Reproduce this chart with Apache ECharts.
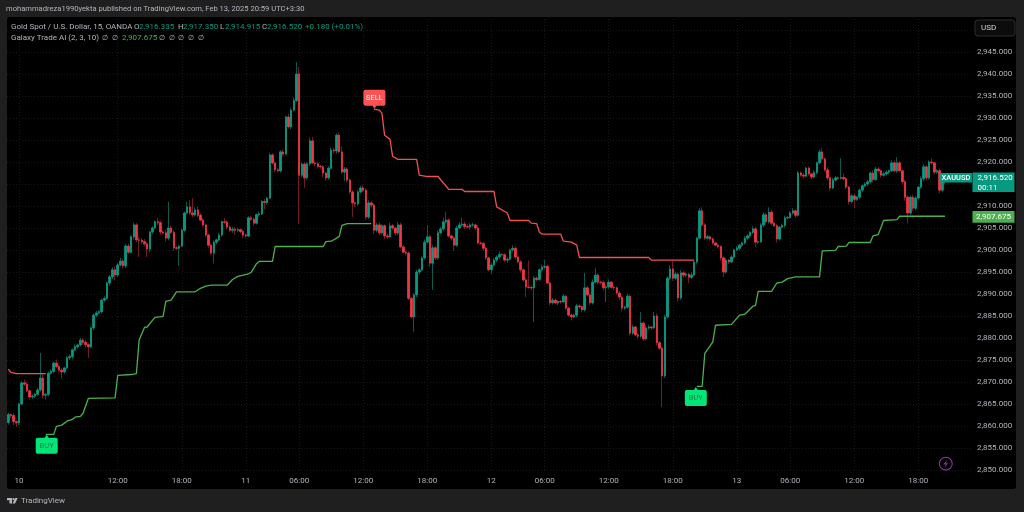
<!DOCTYPE html>
<html><head><meta charset="utf-8">
<style>html,body{margin:0;padding:0;background:#1f1f1f}#c{width:1024px;height:512px}</style>
<script src="https://cdn.jsdelivr.net/npm/echarts@6/dist/echarts.min.js"></script>
</head><body><div id="c"></div>
<script>
const firstOpen = 2860.8;
const closes = [
2862.6,2862.4,2861.0,2860.7,2865.0,2869.8,2869.5,2868.0,2866.6,2866.8,
2867.2,2868.2,2870.9,2867.0,2867.2,2872.0,2872.4,2874.3,2873.5,2872.7,
2872.3,2873.2,2875.5,2875.8,2877.3,2878.0,2878.4,2879.5,2879.0,2878.5,
2878.0,2882.3,2885.2,2885.7,2886.0,2888.6,2889.0,2892.5,2893.9,2895.5,
2894.3,2896.6,2897.5,2896.4,2900.9,2899.5,2903.0,2905.7,2902.3,2902.2,
2901.9,2901.4,2900.2,2904.1,2905.0,2906.4,2906.2,2904.1,2903.9,2902.7,
2905.0,2904.0,2900.5,2900.4,2900.9,2904.5,2908.4,2909.8,2908.4,2908.0,
2909.1,2907.9,2906.8,2905.7,2903.4,2901.1,2899.3,2901.8,2902.3,2903.4,
2906.4,2906.3,2905.2,2904.5,2904.7,2904.5,2904.6,2904.2,2903.4,2903.2,
2907.3,2907.0,2906.1,2908.0,2908.2,2911.0,2910.8,2911.8,2921.6,2919.8,
2918.2,2918.0,2922.3,2921.8,2930.2,2928.0,2931.8,2934.0,2940.0,2917.0,
2919.5,2916.4,2919.6,2924.8,2919.8,2919.6,2919.0,2918.9,2917.5,2916.4,
2918.6,2922.7,2922.5,2926.1,2922.3,2917.7,2918.4,2915.9,2913.2,2910.7,
2910.5,2913.2,2914.1,2913.6,2907.5,2910.7,2910.2,2904.5,2905.7,2903.9,
2905.5,2903.2,2903.0,2905.5,2905.0,2903.9,2905.7,2900.7,2899.5,2899.3,
2889.0,2884.8,2889.8,2895.0,2895.5,2898.2,2901.8,2903.0,2897.0,2900.5,
2898.2,2903.9,2904.8,2906.4,2906.8,2903.2,2902.7,2901.1,2905.0,2905.7,
2905.9,2905.3,2905.2,2905.7,2905.7,2905.0,2901.6,2901.5,2900.4,2898.2,
2895.5,2896.6,2897.7,2898.4,2899.0,2898.9,2897.7,2897.9,2900.0,2900.4,
2898.4,2897.3,2895.5,2893.2,2891.6,2891.5,2891.4,2893.6,2893.3,2895.5,
2896.1,2896.3,2892.5,2888.0,2888.6,2888.0,2888.3,2888.2,2889.5,2886.8,
2885.2,2884.8,2885.2,2887.3,2887.1,2886.4,2891.4,2889.8,2888.0,2892.7,
2894.3,2892.7,2892.6,2891.4,2891.6,2892.7,2891.5,2891.4,2890.2,2889.3,
2886.8,2887.0,2889.5,2881.1,2882.5,2880.7,2880.4,2883.4,2879.8,2882.3,
2882.5,2882.3,2885.0,2878.9,2877.7,2871.4,2884.8,2893.6,2895.7,2893.6,
2894.5,2889.1,2894.8,2894.3,2894.5,2893.8,2894.3,2897.3,2902.7,2908.9,
2905.7,2902.7,2903.0,2902.5,2901.6,2901.1,2900.8,2898.2,2895.0,2897.7,
2897.3,2898.4,2900.0,2900.4,2901.1,2901.6,2902.7,2903.2,2904.0,2904.8,
2901.8,2901.9,2905.7,2908.0,2906.4,2908.6,2906.1,2905.5,2902.5,2905.2,
2905.6,2907.3,2907.4,2908.4,2908.9,2907.9,2917.5,2917.0,2916.8,2918.6,
2917.3,2916.6,2917.6,2919.8,2922.3,2920.7,2918.2,2916.4,2914.1,2915.9,
2916.4,2916.3,2916.5,2916.2,2914.3,2911.0,2912.3,2911.5,2912.0,2913.6,
2914.6,2915.0,2915.5,2917.5,2916.0,2918.4,2918.0,2917.0,2917.3,2917.7,
2918.0,2919.8,2918.0,2919.8,2918.0,2915.5,2912.0,2908.4,2912.0,2909.5,
2911.8,2914.3,2916.2,2918.9,2916.4,2920.0,2919.8,2917.7,2918.0,2913.6,
2916.335,2916.52];
const upperWicks = [
.4,.3,.5,.3,.3,.4,.8,.5,.3,.4,
.3,.5,5.7,.9,.3,.4,.5,.3,.8,.4,
.5,.3,.4,.5,.3,.6,.3,.5,.4,.6,
.4,.3,.3,.5,.3,.4,.5,.3,.5,.6,
.8,.4,.7,.5,.4,.6,.3,.5,.4,.6,
.5,.6,.4,.3,.4,.3,.9,.5,.4,.7,
6.0,.5,.6,.4,.3,.4,.3,1.2,1.5,3.4,
.6,.8,.5,.4,.3,.4,.3,.4,.3,.5,
.3,.9,.5,.4,.6,.5,.4,.3,.4,.3,
.4,.5,.4,.3,.5,.4,.6,.3,.5,.4,
.3,.5,.4,.6,.3,.8,.4,.7,2.7,1.6,
.4,.5,.3,.8,.9,.5,.4,.3,.4,.3,
.4,.6,.5,.4,.6,1.2,.5,.4,.3,.4,
.3,.6,.5,.7,.4,.6,.5,.4,.5,.6,
.4,.3,.5,.7,.4,.3,.6,.5,.4,.3,
.4,.3,.4,.5,.3,.4,.6,2.7,.5,.6,
.4,.6,.5,.8,1.8,.4,.3,.4,.5,.6,
1.4,.5,.6,.4,.5,.3,.6,.4,.3,.4,
.3,.4,.5,.4,.6,.3,.4,.5,.3,.7,
.4,.3,.4,.3,.5,6.0,.4,.5,.4,.3,
.6,1.4,.4,.3,.5,.4,.3,.4,.5,.3,
.3,.4,.3,.5,.4,.3,3.4,.5,.4,.6,
1.6,.4,.3,.5,.4,.6,.3,.4,.3,.5,
.3,.4,.6,.4,.5,.3,.4,2.5,.4,.6,
.5,.3,.9,.6,.4,.3,.5,.4,.8,2.0,
.6,.4,.7,.5,.4,.3,.6,.4,.3,.6,
.8,.4,.5,.3,.4,.3,.4,.3,.4,.5,
.3,.4,.3,.5,.4,.3,.5,.4,.3,.6,
.5,.3,.4,.6,.4,1.1,.5,.3,.4,.3,
.4,.5,.3,.4,.6,.3,.5,.4,.5,.3,
.4,.3,.5,.3,.5,.9,.4,.6,.3,.5,
.4,.3,4.4,.9,.4,.3,.5,.4,.3,.4,
.3,.4,.5,.3,.6,.5,.4,.3,.5,.4,
.3,.6,.5,1.3,.4,.3,.5,.4,.3,.6,
.4,.3,.5,.6,.4,.4,.8,.3,.4,.5,
.6,.83];
const lowerWicks = [
.5,.6,.8,.9,.5,.3,.4,.3,.6,.4,
.5,.3,.4,.7,1.0,.4,.3,.5,.3,.6,
1.5,.4,.3,.5,.6,.3,.4,.3,.5,.7,
2.5,.3,.5,.4,.3,.5,.4,.3,.6,.5,
1.2,.4,.3,.6,.5,.4,.3,.6,.5,3.8,
.6,.5,1.8,.7,.4,.3,.5,.6,.4,.8,
.5,.4,.7,.5,4.0,.3,.4,.3,.5,.6,
.4,.5,.3,.4,.5,.6,.4,2.3,.5,.3,
.4,.3,.5,.4,.6,1.1,.5,.4,.7,.5,
.3,.4,.6,.3,.4,.3,1.6,.5,.3,.4,
.5,.3,.4,.6,.3,.4,.5,.3,.4,11.0,
.5,2.3,.4,.5,.3,.6,.5,.4,1.0,.6,
.4,.3,.5,.6,.3,.4,2.0,.5,.4,3.2,
.7,.4,.3,.5,.6,.4,.8,.9,.5,.6,
.4,.7,.5,.3,.4,.6,.5,.4,.3,.5,
.4,.3,3.4,.5,.6,.3,.4,.3,.9,6.1,
.5,.4,.3,.5,.4,.4,.6,1.3,.4,.3,
.4,.5,.3,.6,.4,.5,.3,.4,.6,.5,
.4,.9,.3,.4,.5,.3,.4,.6,.3,.4,
.5,.3,.6,.4,2.3,.3,.5,7.8,.4,.3,
.4,.5,.3,.6,.4,.3,.5,.4,.3,.5,
.4,.8,.3,.4,.5,.6,.4,.3,.5,.4,
.3,.5,.4,.6,3.2,.4,.3,.5,.4,.6,
.7,.4,.3,.5,.4,.3,.5,.4,.5,.3,
.4,.5,.3,.6,.4,7.1,.5,.3,.4,.6,
.5,.8,.4,.6,.5,1.3,.4,.3,.4,.3,
.5,.4,.3,.5,.4,.3,.5,.6,1.1,.4,
.5,.3,.4,.3,.5,.4,.3,.4,.5,.3,
1.1,.4,.3,.5,.6,.4,.5,.3,.8,.4,
.3,.5,.4,.3,.4,.6,.3,.4,.5,.3,
.4,.5,.3,.4,.3,.5,.4,.6,.7,.3,
.4,.5,.3,.4,.5,.7,.4,2.0,.3,.5,
.4,.3,.5,.4,.6,.3,.4,.5,.3,.4,
.5,.3,.4,.5,.3,.6,.8,2.4,.4,.6,
.5,.3,.4,.5,.6,.4,.3,.5,.4,.7,
.5,1.42];
const redTrend1 = [[0,2872.9],[1,2872.2],[3,2871.9],[14,2871.9]];
const greenTrend1 = [[14,2858.1],[17,2858.1],[18,2859.9],[20,2860.2],[22,2861.1],[24,2861.5],[25,2862],[27,2862.2],[28,2862.9],[30,2866.3],[40,2866.4],[41,2871.5],[46,2871.7],[48,2871.9],[49,2879.5],[51,2882.4],[52,2882.5],[54,2884],[55,2884.7],[58,2884.9],[59,2888.3],[61,2888.6],[63,2890.5],[70,2890.5],[72,2891.3],[74,2891.8],[76,2892],[82,2892],[84,2893.3],[86,2894],[90,2894.6],[91,2894.9],[93,2896.9],[94,2897.4],[99,2897.4],[100,2900.8],[118,2900.8],[119,2901.9],[121,2902],[123,2902.7],[124,2903.1],[125,2905.6],[127,2906],[136,2906]];
const redTrend2 = [[137,2932],[139,2931.8],[140,2931.1],[141,2926.1],[143,2925.2],[144,2921.3],[146,2920.6],[153,2920.6],[154,2917],[157,2916.7],[161,2916.7],[165,2913.8],[170,2913.8],[171,2913.3],[182,2913.3],[183,2909.8],[187,2908.4],[188,2906.7],[195,2906.7],[196,2906.1],[198,2906],[199,2904.1],[200,2903.6],[207,2903.6],[208,2902],[211,2901.8],[213,2901.1],[214,2898.3],[240,2898.3],[241,2897.7],[257,2897.7]];
const greenTrend2 = [[258,2869],[260,2869],[261,2876.5],[264,2879.1],[265,2882.9],[271,2883.1],[274,2885.2],[276,2885.4],[279,2887.2],[280,2887.4],[281,2890.6],[286,2890.6],[288,2892.5],[290,2892.7],[292,2893.5],[295,2893.9],[304,2893.9],[305,2899.8],[310,2899.9],[311,2900.8],[314,2900.9],[315,2901.7],[323,2901.7],[324,2903.2],[326,2903.5],[328,2906.7],[333,2906.9],[334,2907.675],[351,2907.675]];
const tickIndices = [4,41,65,89,109,133,157,181,201,225,249,273,293,317,341];
const tickLabels = ['10','12:00','18:00','11','06:00','12:00','18:00','12','06:00','12:00','18:00','13','06:00','12:00','18:00'];
const slotCount = 362;

const UP='#089981', DOWN='#f23645', UPW='#0b5a4f', DOWNW='#6e1d28', GRID='#171717', TXT='#b2b5be';
const FONT='Roboto';
const categories = Array.from({length:slotCount},()=> '');
tickIndices.forEach((ix,k)=>{categories[ix]=tickLabels[k];});
const opens = closes.map((c,i)=> i?closes[i-1]:firstOpen);
const wickData = closes.map((c,i)=>[opens[i],c,Math.min(opens[i],c)-lowerWicks[i],Math.max(opens[i],c)+upperWicks[i]]);
const bodyData = closes.map((c,i)=>[opens[i],c,Math.min(opens[i],c),Math.max(opens[i],c)]);
const fmt = v=>v.toLocaleString('en-US',{minimumFractionDigits:3,maximumFractionDigits:3});

const sellPath='path://M2 0H20A2 2 0 0 1 22 2V14A2 2 0 0 1 20 16H13L11 19L9 16H2A2 2 0 0 1 0 14V2A2 2 0 0 1 2 0Z';
const buyPath='path://M11 0L13 3H20A2 2 0 0 1 22 5V17A2 2 0 0 1 20 19H2A2 2 0 0 1 0 17V5A2 2 0 0 1 2 3H9Z';
const signal=(coord,kind,dx)=>({coord,symbol:kind==='SELL'?sellPath:buyPath,symbolSize:[22,19],
  symbolOffset:kind==='SELL'?[dx,-10]:[dx,10],
  itemStyle:{color:kind==='SELL'?'#ff5252':'#00e676'},
  label:{show:true,formatter:kind,position:'inside',offset:[0,kind==='SELL'?-1.5:1.5],color:kind==='SELL'?'#fff':'#1b7a4c',fontFamily:FONT,fontSize:7.5}});
const trend=(name,data,color,mp)=>({name,type:'line',data,symbol:'none',silent:true,lineStyle:{color,width:1.3},z:4,
  markPoint:mp?{silent:true,animation:false,data:mp}:undefined});
const tx=(x,y,text,fill,size,extra)=>({type:'text',z:60,silent:true,style:Object.assign({x,y,text,fill,font:(size||8)+'px '+FONT,verticalAlign:'middle'},extra||{})});

const option={
 backgroundColor:'#1f1f1f',animation:false,
 grid:{left:7,right:51,top:16.8,bottom:42,containLabel:false},
 xAxis:{type:'category',data:categories,boundaryGap:true,axisLine:{show:false},axisTick:{show:false},splitLine:{show:false},
   axisLabel:{interval:(i)=>tickIndices.includes(i),color:TXT,fontFamily:FONT,fontSize:8,margin:7}},
 yAxis:{type:'value',position:'right',min:2850,max:2953,interval:5,axisLine:{show:false},axisTick:{show:false},
   splitLine:{showMaxLine:false,lineStyle:{color:GRID,type:[1,2],width:1}},
   axisLabel:{color:TXT,fontFamily:FONT,fontSize:8,margin:4,showMaxLabel:false,formatter:v=>v>2945?'':fmt(v)}},
 series:[
  {name:'wicks',type:'candlestick',data:wickData,barWidth:1.6,silent:true,z:2,
   itemStyle:{color:UPW,color0:DOWNW,borderColor:UPW,borderColor0:DOWNW,borderWidth:1},
   markLine:{z:1,silent:true,symbol:'none',label:{show:false},animation:false,lineStyle:{color:GRID,type:[1,2],width:1},data:tickIndices.map(i=>({xAxis:i}))}},
  {name:'XAUUSD',type:'candlestick',data:bodyData,barWidth:2,silent:true,z:3,
   itemStyle:{color:UP,color0:DOWN,borderColor:UP,borderColor0:DOWN,borderWidth:0.7},
   markPoint:{silent:true,animation:false,data:[
     {coord:[351,2916.52],symbol:'rect',symbolSize:[32,9.5],symbolOffset:[11,0.5],itemStyle:{color:UP},
      label:{show:true,formatter:'XAUUSD',position:'inside',color:'#fff',fontFamily:FONT,fontSize:7.5,fontWeight:500}},
     {coord:[351,2916.52],symbol:'rect',symbolSize:[42,19.5],symbolOffset:[48.5,5],itemStyle:{color:UP},
      label:{show:true,formatter:'2,916.520\n00:11',position:[5,1],align:'left',verticalAlign:'top',color:'#fff',fontFamily:FONT,fontSize:8,lineHeight:9.5}}
   ]}},
  trend('Galaxy sell 1',redTrend1,'#f05050'),
  trend('Galaxy buy 1',greenTrend1,'#4caf50',[signal([14,2858.1],'BUY',1)]),
  trend('Galaxy sell 2',redTrend2,'#f05050',[signal([137,2932],'SELL',0.5)]),
  trend('Galaxy buy 2',greenTrend2,'#4caf50',[signal([258,2869],'BUY',-1),
     {coord:[351,2907.675],symbol:'rect',symbolSize:[42,11.6],symbolOffset:[48.5,0.6],itemStyle:{color:'#4caf50'},
      label:{show:true,formatter:'2,907.675',position:'inside',color:'#fff',fontFamily:FONT,fontSize:8}}])
 ],
 graphic:[
  {type:'rect',z:-10,silent:true,shape:{x:7,y:17,width:1009,height:472,r:3},style:{fill:'#000'}},
  {type:'rect',z:50,silent:true,shape:{x:973,y:473,width:43,height:14},style:{fill:'#000'}},
  {type:'rect',z:55,silent:true,shape:{x:975,y:20,width:40,height:16,r:3},style:{fill:'#0c0c0c',stroke:'#2c2c2c',lineWidth:1}},
  tx(981,28,'USD','#d1d4dc',8),
  tx(6,9.5,'mohammadreza1990yekta published on TradingView.com, Feb 13, 2025 20:59 UTC+3:30',TXT,7.6),
  tx(11,27,'Gold Spot / U.S. Dollar, 15, OANDA',TXT,8),
  tx(134,27,'O',TXT,8),tx(139,27,'2,916.335',UP,8),
  tx(178,27,'H',TXT,8),tx(183,27,'2,917.350',UP,8),
  tx(220,27,'L',TXT,8),tx(225,27,'2,914.915',UP,8),
  tx(262,27,'C',TXT,8),tx(267,27,'2,916.520',UP,8),
  tx(305,27,'+0.180 (+0.01%)',UP,8),
  tx(11,38,'Galaxy Trade AI (2, 3, 10)',TXT,8),
  tx(102,38,'∅',TXT,7),tx(112,38,'∅',TXT,7),
  tx(122,38,'2,907.675','#4caf50',8),
  tx(159,38,'∅',TXT,7),tx(169,38,'∅',TXT,7),tx(178,38,'∅',TXT,7),tx(188,38,'∅',TXT,7),tx(198,38,'∅',TXT,7),
  {type:'polygon',z:60,silent:true,shape:{points:[[7,498],[12,498],[12,503.5],[9.5,503.5],[9.5,500.3],[7,500.3]]},style:{fill:TXT}},
  {type:'circle',z:60,silent:true,shape:{cx:13.5,cy:499.2,r:1.1},style:{fill:TXT}},
  {type:'polygon',z:60,silent:true,shape:{points:[[15.2,498],[17.7,498],[15,503.5],[12.6,503.5]]},style:{fill:TXT}},
  tx(21,501,'TradingView',TXT,8),
  {type:'circle',z:60,silent:true,shape:{cx:945.8,cy:463.7,r:6.4},style:{fill:'none',stroke:'#8e35a8',lineWidth:1.1}},
  {type:'polygon',z:60,silent:true,shape:{points:[[947,459.8],[943.6,464.2],[945.6,464.2],[944.6,467.6],[948,463.2],[946,463.2]]},style:{fill:'#8e35a8'}}
 ]
};
const chart=echarts.init(document.getElementById('c'),null,{renderer:'canvas',width:1024,height:512});
chart.setOption(option);
</script></body></html>
